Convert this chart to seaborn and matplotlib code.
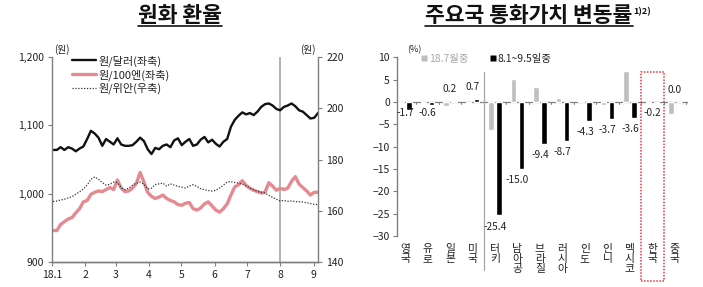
import numpy as np
import pandas as pd
import matplotlib
matplotlib.use("Agg")
import matplotlib.pyplot as plt
import matplotlib.transforms as mtrans
from matplotlib.lines import Line2D
from matplotlib.patches import Rectangle
import seaborn as sns

sns.set_theme(style="white")
plt.rcParams["font.family"] = ["Noto Sans CJK KR", "DejaVu Sans"]

# ---------------- data: left panel ----------------
start_date = "2018-01-02"
end_date = "2018-09-05"
krw_usd = [1064, 1064, 1068, 1064, 1068, 1066, 1062, 1066, 1069, 1080,
           1092, 1088, 1082, 1070, 1080, 1076, 1072, 1081, 1072, 1070,
           1070, 1071, 1076, 1082, 1077, 1065, 1058, 1067, 1065, 1070,
           1072, 1068, 1078, 1081, 1071, 1076, 1080, 1070, 1072, 1079,
           1083, 1075, 1079, 1073, 1069, 1076, 1080, 1098, 1108, 1114,
           1119, 1116, 1118, 1115, 1120, 1127, 1131, 1132, 1129, 1124,
           1122, 1127, 1129, 1132, 1128, 1122, 1120, 1115, 1110, 1111,
           1118]
krw_jpy100 = [946, 946, 955, 959, 963, 965, 972, 978, 988, 990,
              999, 1002, 1004, 1003, 1006, 1009, 1006, 1020, 1008, 1003,
              1004, 1008, 1015, 1031, 1017, 1002, 996, 993, 995, 998,
              993, 990, 988, 984, 983, 986, 987, 978, 976, 979,
              985, 988, 982, 976, 973, 978, 985, 998, 1010, 1013,
              1019, 1012, 1008, 1005, 1003, 1001, 1002, 1016, 1011, 1005,
              1008, 1006, 1008, 1018, 1025, 1014, 1009, 1004, 998, 1002,
              1002]
krw_cny = [163.6, 163.8, 164.2, 164.5, 165.0, 165.5, 166.5, 167.4, 168.5, 170.0,
           172.3, 173.2, 172.3, 171.0, 170.0, 170.3, 171.2, 171.0, 169.0, 168.2,
           168.8, 170.0, 170.8, 171.2, 170.4, 168.5, 168.8, 170.2, 170.5, 170.8,
           169.6, 170.5, 170.0, 169.5, 169.2, 168.9, 169.6, 170.2, 169.5, 168.6,
           168.2, 167.9, 167.7, 168.0, 168.9, 170.0, 171.2, 171.4, 171.0, 170.8,
           170.4, 169.8, 168.9, 168.2, 167.6, 167.2, 166.9, 166.0, 165.2, 164.5,
           163.8, 164.0, 163.7, 163.8, 163.6, 163.5, 163.4, 163.1, 162.8, 162.5,
           162.4]
month_ticks = ["2018-01-01", "2018-02-01", "2018-03-01", "2018-04-01", "2018-05-01",
               "2018-06-01", "2018-07-01", "2018-08-01", "2018-09-01"]
month_labels = ["18.1", "2", "3", "4", "5", "6", "7", "8", "9"]
series_names = ["원/달러(좌축)", "원/100엔(좌축)", "원/위안(우축)"]

# ---------------- data: right panel ----------------
countries = ["영국", "유로", "일본", "미국", "터키", "남아공", "브라질",
             "러시아", "인도", "인니", "멕시코", "한국", "중국"]
chg_jul = [-0.3, -0.2, -0.9, -0.2, -6.2, 5.1, 3.3, 0.8, 0.3, -0.6, 6.9, -0.3, -2.6]
chg_aug = [-1.7, -0.6, 0.2, 0.7, -25.4, -15.0, -9.4, -8.7, -4.3, -3.7, -3.6, -0.2, 0.0]
period_names = ["18.7월중", "8.1~9.5일중"]

dates = pd.date_range(start_date, end_date, periods=len(krw_usd))
df_l = pd.DataFrame({"date": dates, "usd": krw_usd, "jpy": krw_jpy100, "cny": krw_cny})

df_b = pd.DataFrame({
    "country": countries * 2,
    "period": [period_names[0]] * len(countries) + [period_names[1]] * len(countries),
    "value": chg_jul + chg_aug,
})

# ---------------- figure ----------------
W, H = 703, 287
fig = plt.figure(figsize=(W / 100, H / 100), dpi=100)

def box(x0, x1, ytop, ybot):
    return [x0 / W, 1 - ybot / H, (x1 - x0) / W, (ybot - ytop) / H]

txt = "#222222"
spine_c = "#7f7f7f"

# ---- left panel ----
ax = fig.add_axes(box(52, 318, 57, 262))
ax2 = ax.twinx()
c_usd, c_jpy, c_cny = "#111111", "#e58a90", "#333333"
sns.lineplot(data=df_l, x="date", y="usd", ax=ax, color=c_usd, lw=1.7)
sns.lineplot(data=df_l, x="date", y="jpy", ax=ax, color=c_jpy, lw=2.4)
sns.lineplot(data=df_l, x="date", y="cny", ax=ax2, color=c_cny, lw=0.9,
             linestyle=(0, (1, 1.3)))
ax.set_ylim(900, 1200)
ax2.set_ylim(140, 220)
ax.set_xlim(pd.Timestamp("2018-01-01"), pd.Timestamp("2018-09-05"))
ax.axvline(pd.Timestamp("2018-08-01"), color="#a6a6a6", lw=1.2, zorder=0)
ax.set_yticks([900, 1000, 1100, 1200])
ax.set_yticklabels(["900", "1,000", "1,100", "1,200"])
ax2.set_yticks([140, 160, 180, 200, 220])
ax.set_xticks(pd.to_datetime(month_ticks))
ax.set_xticklabels(month_labels)
for a in (ax, ax2):
    a.set_xlabel("")
    a.set_ylabel("")
    a.spines["top"].set_visible(False)
    for s in a.spines.values():
        s.set_color(spine_c)
        s.set_linewidth(1.0)
ax.spines["right"].set_visible(False)
ax2.spines["left"].set_visible(False)
ax.tick_params(axis="both", which="both", direction="out", length=3, width=0.8,
               color=spine_c, labelsize=7.5, labelcolor=txt, pad=3)
ax.tick_params(axis="y", left=True, right=False)
ax.tick_params(axis="x", bottom=True)
ax2.tick_params(axis="y", direction="out", length=3, width=0.8, color=spine_c,
                labelsize=7.5, labelcolor=txt, right=True, pad=3)
ax.text(0.038, 1.035, "(원)", transform=ax.transAxes, fontsize=7, color=txt,
        ha="center", va="center")
ax.text(0.962, 1.035, "(원)", transform=ax.transAxes, fontsize=7, color=txt,
        ha="center", va="center")
handles = [Line2D([], [], color=c_usd, lw=1.7),
           Line2D([], [], color=c_jpy, lw=2.4),
           Line2D([], [], color=c_cny, lw=0.9, linestyle=(0, (1, 1.3)))]
leg = ax.legend(handles, series_names, loc="upper left", bbox_to_anchor=(0.055, 1.035),
                frameon=False, fontsize=8, handlelength=2.1, handletextpad=0.3,
                labelspacing=0.2, borderpad=0)
for t in leg.get_texts():
    t.set_color(txt)

# ---- right panel ----
bx = fig.add_axes(box(396.7, 688, 57.3, 236))
sns.barplot(data=df_b, x="country", y="value", hue="period", hue_order=period_names,
            order=countries, palette=["#bfbfbf", "#000000"], width=0.72, gap=0.32,
            ax=bx, legend=False, saturation=1)
bx.set_ylim(-30, 10)
bx.set_xlim(-0.37, 12.58)
bx.set_yticks(range(-30, 11, 5))
bx.set_xlabel("")
bx.set_ylabel("")
bx.axhline(0, color=spine_c, lw=0.9, zorder=0.5)
for s in ["top", "right", "bottom"]:
    bx.spines[s].set_visible(False)
bx.spines["left"].set_color(spine_c)
bx.spines["left"].set_linewidth(1.0)
bx.tick_params(axis="y", direction="out", length=3, width=0.8, color=spine_c,
               left=True, labelsize=7.5, labelcolor=txt, pad=2)
bx.tick_params(axis="x", length=0, pad=6)
bx.set_xticks(range(len(countries)))
bx.set_xticklabels(["\n".join(c) for c in countries], fontsize=7.8, color=txt,
                   linespacing=0.95, va="top")
# boundary ticks on the zero line
for k in range(len(countries) + 1):
    bx.plot([k - 0.5, k - 0.5], [0, -0.5], color=spine_c, lw=0.7)

# value labels for the 8.1~9.5 bars
for i, v in enumerate(chg_aug):
    if v >= 0:
        y = v + 2.6
    elif v > -2:
        y = -2.4
    else:
        y = v - 2.5
    bx.text(i, y, f"{v:.1f}", ha="center", va="center", fontsize=7.3, color=txt)

blend = mtrans.blended_transform_factory(bx.transData, bx.transAxes)
bx.plot([3.5, 3.5], [-0.19, 0.918], transform=blend, color="#a6a6a6", lw=0.9,
        clip_on=False)
bx.add_patch(Rectangle((10.5, -0.252), 1.0, 1.17, transform=blend, fill=False,
                       edgecolor="#e8343e", lw=1.1, linestyle=(0, (1, 1)),
                       clip_on=False))
bx.text(0.035, 1.04, "(%)", transform=bx.transAxes, fontsize=6.5, color=txt,
        ha="left", va="center")
bh = [Line2D([], [], marker="s", color="none", markerfacecolor="#bfbfbf",
             markeredgecolor="none", markersize=4),
      Line2D([], [], marker="s", color="none", markerfacecolor="#000000",
             markeredgecolor="none", markersize=4)]
bleg = bx.legend(bh, period_names, loc="upper left", bbox_to_anchor=(0.065, 1.05),
                 ncol=2, frameon=False, fontsize=7.5, handlelength=0.6,
                 handletextpad=0.2, columnspacing=2.0, borderpad=0)
bleg.get_texts()[0].set_color("#a6a6a6")
bleg.get_texts()[1].set_color(txt)

# ---- titles with underline ----
t1 = fig.text(180 / W, 1 - 15 / H, "원화 환율", ha="center", va="center",
              fontsize=15.5, fontweight="bold", color="#111111")
t2 = fig.text(529 / W, 1 - 15 / H, "주요국 통화가치 변동률", ha="center", va="center",
              fontsize=15.5, fontweight="bold", color="#111111")
fig.canvas.draw()
r = fig.canvas.get_renderer()
for t in (t1, t2):
    bb = t.get_window_extent(r)
    yline = bb.y0 - 0.5
    fig.add_artist(Line2D([bb.x0, bb.x1], [yline, yline], transform=None,
                          color="#111111", lw=1.2))
bb2 = t2.get_window_extent(r)
fig.text((bb2.x1 + 1) / W, (bb2.y1 - 3) / H, "1)2)", fontsize=6.5, fontweight="bold",
         color="#111111", ha="left", va="top")

fig.savefig("out.png", dpi=100)
